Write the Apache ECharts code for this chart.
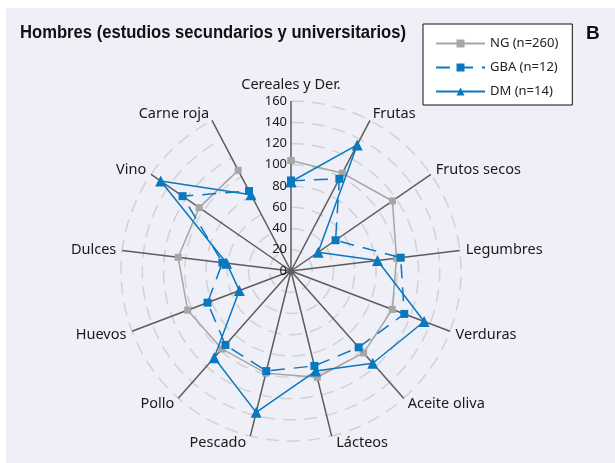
<!DOCTYPE html>
<html lang="es">
<head>
    <meta charset="UTF-8">
    <title>Hombres radar</title>
    <script src="https://cdn.jsdelivr.net/npm/echarts@6/dist/echarts.min.js"></script>
    <style>
        * { margin: 0; padding: 0 }
        html, body { width: 100%; height: 100%; background: #fff; }
        #main { width: 615px; height: 463px; }
    </style>
</head>
<body>
    <div id="main"></div>
    <script type="text/javascript">
        // ejes en sentido horario desde arriba
        var grupos = ['Cereales y Der.', 'Frutas', 'Frutos secos', 'Legumbres', 'Verduras', 'Aceite oliva',
            'Lácteos', 'Pescado', 'Pollo', 'Huevos', 'Dulces', 'Vino', 'Carne roja'];
        var ng = [104, 104, 116, 100, 102, 103, 103, 99, 98, 104, 107, 105, 107];
        var gba = [85, 98, 51, 104, 114, 96, 92, 97, 93, 84, 65, 124, 85];
        var dm = [84, 134, 31, 82, 134, 116, 97, 137, 109, 52, 61, 149, 81];
        var radioTicks = [0, 20, 40, 60, 80, 100, 120, 140, 160];

        var azul = '#0a78be';
        var gris = '#a6a6a6';
        var fuente = "'Noto Sans', sans-serif";

        // pares [radio, indice], se repite el primero para cerrar el poligono
        function puntos(vals) {
            var out = vals.map(function (v, i) { return [v, i]; });
            out.push([vals[0], vals.length]);
            return out;
        }

        var myChart = echarts.init(document.getElementById('main'));

        var option = {
            backgroundColor: '#eeeff7',
            animation: false,
            graphic: [
                { type: 'rect', shape: { x: 0, y: 0, width: 615, height: 8 }, style: { fill: '#fff' } },
                { type: 'rect', shape: { x: 0, y: 0, width: 6, height: 463 }, style: { fill: '#fff' } },
                {
                    type: 'text', x: 20, y: 33, scaleX: 0.923,
                    style: {
                        text: 'Hombres (estudios secundarios y universitarios)',
                        font: "bold 18px 'Liberation Sans'", fill: '#111', verticalAlign: 'middle'
                    }
                },
                {
                    type: 'text', x: 586, y: 34,
                    style: { text: 'B', font: "bold 19px 'Liberation Sans'", fill: '#111', verticalAlign: 'middle' }
                }
            ],
            legend: {
                orient: 'vertical',
                left: 423, top: 24,
                data: ['NG (n=260)', 'GBA (n=12)', 'DM (n=14)'],
                itemWidth: 49, itemHeight: 10, itemGap: 11,
                padding: [13, 14, 7, 12],
                backgroundColor: '#fff',
                borderColor: '#111',
                borderWidth: 1,
                textStyle: { fontFamily: fuente, fontSize: 13, color: '#222' }
            },
            polar: {
                center: [291, 271],
                radius: 170
            },
            angleAxis: {
                type: 'category',
                data: grupos,
                boundaryGap: false,
                startAngle: 90,
                clockwise: true,
                axisLine: { show: false },
                axisTick: { show: false },
                splitLine: { show: true, lineStyle: { color: '#5c5c5c', width: 1.5 } },
                axisLabel: {
                    margin: 6, interval: 0,
                    // linea baja: el texto queda centrado en el extremo del eje
                    fontFamily: fuente, fontSize: 14.5, color: '#1a1a1a', lineHeight: 2,
                    // Pescado y Lácteos van a un lado del eje, no centradas
                    formatter: function (v) {
                        if (v === 'Pescado') return '{izq|' + v + '}';
                        if (v === 'Lácteos') return '{der|' + v + '}';
                        if (v === 'Cereales y Der.') return '{arr|' + v + '}';
                        return v;
                    },
                    rich: {
                        izq: { fontFamily: fuente, fontSize: 14.5, color: '#1a1a1a', lineHeight: 2, padding: [0, 62, 0, 0] },
                        der: { fontFamily: fuente, fontSize: 14.5, color: '#1a1a1a', lineHeight: 2, padding: [0, 0, 0, 58] },
                        arr: { fontFamily: fuente, fontSize: 14.5, color: '#1a1a1a', lineHeight: 20 }
                    }
                }
            },
            radiusAxis: {
                type: 'value',
                min: radioTicks[0], max: radioTicks[radioTicks.length - 1], interval: 20,
                axisLine: { show: false },
                axisTick: { show: false },
                splitLine: { show: true, lineStyle: { color: '#d2d2d2', width: 1.5, type: [13, 8] } },
                axisLabel: { fontFamily: fuente, fontSize: 13, color: '#1a1a1a', margin: 4 }
            },
            series: [
                {
                    name: 'NG (n=260)', type: 'line', coordinateSystem: 'polar',
                    data: puntos(ng), z: 2,
                    symbol: 'rect', symbolSize: 7,
                    itemStyle: { color: gris },
                    lineStyle: { color: gris, width: 1.5 }
                },
                {
                    name: 'GBA (n=12)', type: 'line', coordinateSystem: 'polar',
                    data: puntos(gba), z: 4,
                    symbol: 'rect', symbolSize: 8,
                    itemStyle: { color: azul },
                    lineStyle: { color: azul, width: 1.5, type: [14, 9] }
                },
                {
                    name: 'DM (n=14)', type: 'line', coordinateSystem: 'polar',
                    data: puntos(dm), z: 3,
                    symbol: 'triangle', symbolSize: 11,
                    itemStyle: { color: azul },
                    lineStyle: { color: azul, width: 1.5 }
                }
            ]
        };

        myChart.setOption(option);
    </script>
</body>
</html>
